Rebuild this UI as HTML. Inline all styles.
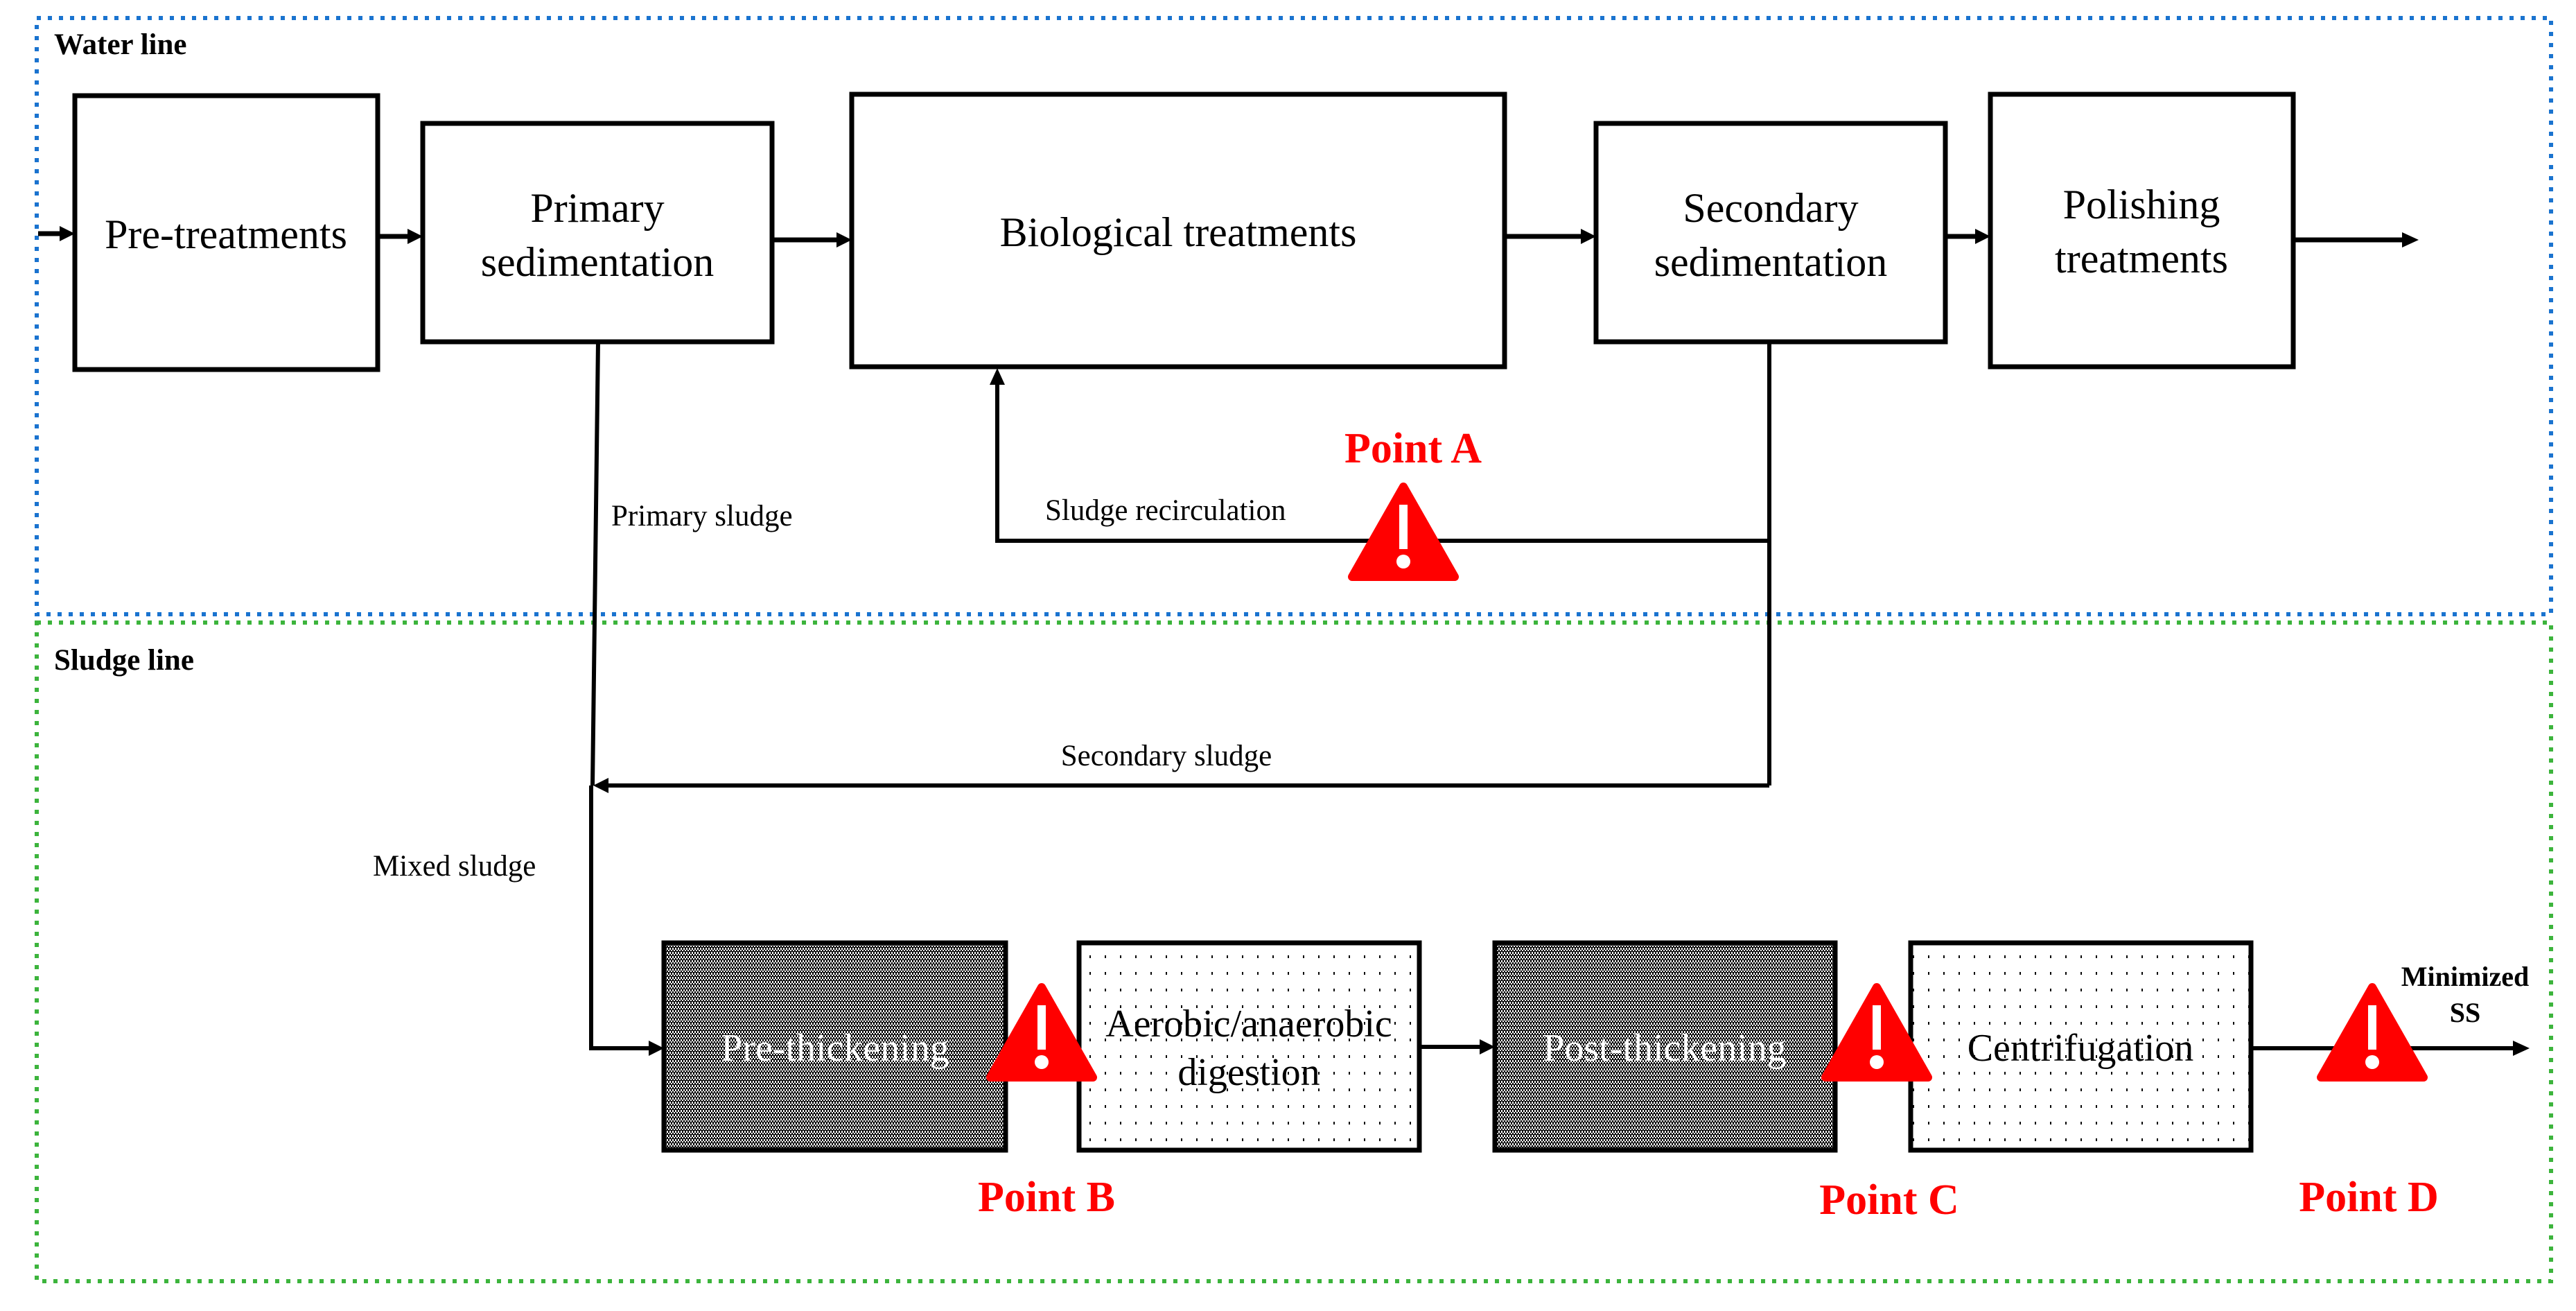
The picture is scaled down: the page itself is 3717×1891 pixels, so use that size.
<!DOCTYPE html>
<html><head><meta charset="utf-8"><style>html,body{margin:0;padding:0;background:#fff}svg{display:block}</style></head><body>
<svg xmlns="http://www.w3.org/2000/svg" width="3717" height="1891" viewBox="0 0 3717 1891" font-family="Liberation Serif, serif">
<defs>
<pattern id="chk" width="4" height="6" patternUnits="userSpaceOnUse"><rect width="4" height="6" fill="#fff"/><rect width="2" height="2" fill="#000"/><rect x="2" y="2" width="2" height="2" fill="#000"/><rect y="4" width="4" height="1" fill="#000"/><rect x="0" y="5" width="2" height="1" fill="#000"/></pattern>
<pattern id="dots" width="22" height="24" patternUnits="userSpaceOnUse"><rect width="22" height="24" fill="#fff"/><rect x="10" y="10" width="2" height="4" fill="#000"/></pattern>
<g id="warn"><polygon points="81,8 155,138 7,138" fill="#f00" stroke="#f00" stroke-width="12" stroke-linejoin="round"/><rect x="75" y="34" width="12" height="64" fill="#fff"/><circle cx="81" cy="116" r="10" fill="#fff"/></g>
</defs>
<rect x="0" y="0" width="3717" height="1891" fill="#fff"/>
<rect x="53" y="26" width="3628" height="860" fill="none" stroke="#1a73cf" stroke-width="6" stroke-dasharray="6 10"/>
<rect x="53" y="898" width="3628" height="950" fill="none" stroke="#3cb43c" stroke-width="6" stroke-dasharray="6 10"/>
<text x="78" y="78" font-size="43" font-weight="bold">Water line</text>
<text x="78" y="966" font-size="43" font-weight="bold">Sludge line</text>
<g fill="#fff" stroke="#000" stroke-width="7">
<rect x="108" y="138" width="437" height="395"/>
<rect x="610" y="178" width="504" height="315"/>
<rect x="1229" y="136" width="942" height="393"/>
<rect x="2303" y="178" width="504" height="315"/>
<rect x="2872" y="136" width="437" height="393"/>
</g>
<g font-size="60" text-anchor="middle">
<text x="326" y="358">Pre-treatments</text>
<text x="862" y="320">Primary</text>
<text x="862" y="398">sedimentation</text>
<text x="1700" y="355">Biological treatments</text>
<text x="2555" y="320">Secondary</text>
<text x="2555" y="398">sedimentation</text>
<text x="3090" y="315">Polishing</text>
<text x="3090" y="393">treatments</text>
</g>
<g stroke="#000" stroke-width="7" fill="none">
<line x1="55" y1="337" x2="90" y2="337"/>
<line x1="545" y1="341" x2="592" y2="341"/>
<line x1="1114" y1="346" x2="1211" y2="346"/>
<line x1="2171" y1="341" x2="2285" y2="341"/>
<line x1="2807" y1="341" x2="2854" y2="341"/>
<line x1="3309" y1="346" x2="3470" y2="346"/>
</g>
<g fill="#000">
<polygon points="86,326 108,337 86,348"/>
<polygon points="588,330 610,341 588,352"/>
<polygon points="1207,335 1229,346 1207,357"/>
<polygon points="2281,330 2303,341 2281,352"/>
<polygon points="2850,330 2872,341 2850,352"/>
<polygon points="3466,335 3490,346 3466,357"/>
<polygon points="1428,555 1439,531 1450,555"/>
<polygon points="878,1122 856,1133 878,1144"/>
<polygon points="936,1501 958,1512 936,1523"/>
<polygon points="2135,1499 2157,1510 2135,1521"/>
<polygon points="3626,1501 3650,1512 3626,1523"/>
</g>
<g stroke="#000" stroke-width="6" fill="none">
<polyline points="2553,493 2553,1133"/>
<polyline points="863,493 855,1133"/>
<polyline points="2553,780 1439,780 1439,550"/>
<polyline points="2553,1133 875,1133"/>
<polyline points="853,1133 853,1512 940,1512"/>
<line x1="2048" y1="1510" x2="2140" y2="1510"/>
<line x1="3248" y1="1512" x2="3630" y2="1512"/>
</g>
<g font-size="43">
<text x="882" y="758">Primary sludge</text>
<text x="1508" y="750">Sludge recirculation</text>
<text x="1683" y="1104" text-anchor="middle">Secondary sludge</text>
<text x="538" y="1263">Mixed sludge</text>
</g>
<g stroke="#000" stroke-width="7">
<rect x="958" y="1360" width="493" height="299" fill="url(#chk)"/>
<rect x="1557" y="1360" width="491" height="299" fill="url(#dots)"/>
<rect x="2157" y="1360" width="491" height="299" fill="url(#chk)"/>
<rect x="2757" y="1360" width="491" height="299" fill="url(#dots)"/>
</g>
<g font-size="56" text-anchor="middle">
<text x="1205" y="1530" fill="#fff">Pre-thickening</text>
<text x="1802" y="1495">Aerobic/anaerobic</text>
<text x="1802" y="1565">digestion</text>
<text x="2402" y="1530" fill="#fff">Post-thickening</text>
<text x="3002" y="1530">Centrifugation</text>
</g>
<use href="#warn" x="1944" y="694"/>
<use href="#warn" x="1422" y="1416"/>
<use href="#warn" x="2627" y="1416"/>
<use href="#warn" x="3342" y="1416"/>
<g font-size="62" font-weight="bold" fill="#f00" text-anchor="middle">
<text x="2039" y="667">Point A</text>
<text x="1510" y="1747">Point B</text>
<text x="2726" y="1751">Point C</text>
<text x="3418" y="1747">Point D</text>
</g>
<g font-size="40" font-weight="bold" text-anchor="middle">
<text x="3557" y="1422">Minimized</text>
<text x="3557" y="1474">SS</text>
</g>
</svg>
</body></html>
